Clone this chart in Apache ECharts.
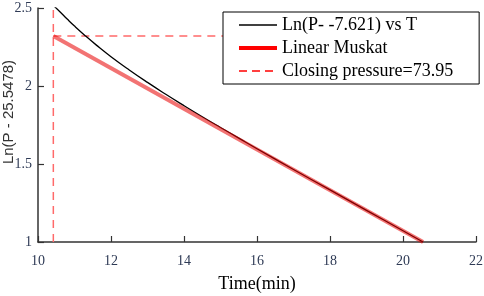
<!DOCTYPE html>
<html>
<head>
<meta charset="utf-8">
<script src="https://cdn.jsdelivr.net/npm/echarts@6/dist/echarts.min.js"></script>
<style>
  html, body { margin: 0; padding: 0; background: #fff; }
  #chart { width: 484px; height: 296px; }
</style>
</head>
<body>
<div id="chart"></div>
<script>
// measured curve Ln(P - -7.621) vs T
var timeVals = [10.45, 10.6, 10.8, 11.0, 11.3, 11.6, 12.0, 12.5, 13.0, 13.5, 14.0, 14.5, 15.0, 15.5, 16, 17, 18, 19, 20, 20.55];
var lnVals = [2.51, 2.476, 2.429, 2.384, 2.321, 2.262, 2.188, 2.103, 2.023, 1.947, 1.874, 1.803, 1.734, 1.666, 1.598, 1.465, 1.334, 1.203, 1.072, 1.0];
// linear Muskat fit (end points)
var muskatT = [10.42, 20.55];
var muskatY = [2.32, 1.0];
// closing pressure marker
var closeT = 10.42;
var closeY = 2.32;
var xTicks = { min: 10, max: 22, step: 2 };
var yTicks = { min: 1, max: 2.5, step: 0.5 };

var serif = "Liberation Serif";
var chart = echarts.init(document.getElementById("chart"));

var curve = timeVals.map(function (t, i) { return [t, lnVals[i]]; });
var muskat = muskatT.map(function (t, i) { return [t, muskatY[i]]; });

var legendText = { fontFamily: serif, fontSize: 18, color: "#000" };

chart.setOption({
  animation: false,
  textStyle: { fontFamily: serif },
  grid: { left: 38, right: 8, top: 8, bottom: 54, outerBoundsMode: "none" },
  legend: {
    orient: "vertical",
    left: 223,
    top: 12,
    backgroundColor: "#fff",
    borderColor: "#000",
    borderWidth: 1,
    borderRadius: 0,
    padding: [4, 26, 4, 14],
    itemGap: 5,
    itemWidth: 38,
    itemHeight: 12,
    itemStyle: { opacity: 0 },
    textStyle: legendText,
    data: [
      { name: "Ln(P- -7.621) vs T", textStyle: legendText, lineStyle: { color: "#000", width: 1.5 } },
      { name: "Linear Muskat", textStyle: legendText, lineStyle: { color: "#f00", width: 4, opacity: 1 } },
      { name: "Closing pressure=73.95", textStyle: legendText, lineStyle: { color: "#f00", width: 1.5, type: [8, 5] } }
    ]
  },
  xAxis: {
    type: "value",
    min: xTicks.min,
    max: xTicks.max,
    interval: xTicks.step,
    name: "Time(min)",
    nameLocation: "middle",
    nameGap: 33,
    nameTextStyle: { fontFamily: serif, fontSize: 18, color: "#000" },
    axisLine: { lineStyle: { color: "#333", width: 1.5 } },
    axisTick: { inside: true, length: 6, lineStyle: { color: "#333", width: 1.2 } },
    axisLabel: { fontFamily: serif, fontSize: 14, color: "#2e3a55", margin: 12 },
    splitLine: { show: false }
  },
  yAxis: {
    type: "value",
    min: yTicks.min,
    max: yTicks.max,
    interval: yTicks.step,
    name: "Ln(P - 25.5478)",
    nameLocation: "middle",
    nameGap: 22,
    nameMoveOverlap: false,
    nameTextStyle: { fontFamily: "Liberation Sans", fontSize: 15, color: "#333", padding: [0, 0, 0, 26] },
    axisLine: { lineStyle: { color: "#333", width: 1.5 } },
    axisTick: { inside: true, length: 6, lineStyle: { color: "#333", width: 1.2 } },
    axisLabel: { fontFamily: serif, fontSize: 14, color: "#2e3a55", margin: 6 },
    splitLine: { show: false }
  },
  series: [
    {
      name: "Closing pressure=73.95",
      type: "line",
      symbol: "none",
      z: 1,
      lineStyle: { color: "#ff6a6a", width: 1.5, type: [8, 6] },
      itemStyle: { color: "#ff2020" },
      data: [[closeT, yTicks.min], [closeT, yTicks.max]]
    },
    {
      name: "Closing pressure=73.95",
      type: "line",
      symbol: "none",
      z: 1,
      lineStyle: { color: "#ff6a6a", width: 1.5, type: [8, 6] },
      data: [[closeT, closeY], [xTicks.max, closeY]]
    },
    {
      name: "Ln(P- -7.621) vs T",
      type: "line",
      symbol: "none",
      smooth: true,
      z: 2,
      lineStyle: { color: "#000", width: 1.3 },
      itemStyle: { color: "#000" },
      data: curve
    },
    {
      name: "Linear Muskat",
      type: "line",
      symbol: "none",
      z: 3,
      lineStyle: { color: "rgba(232,0,0,0.55)", width: 4 },
      itemStyle: { color: "#f00" },
      data: muskat
    }
  ]
});
</script>
</body>
</html>
